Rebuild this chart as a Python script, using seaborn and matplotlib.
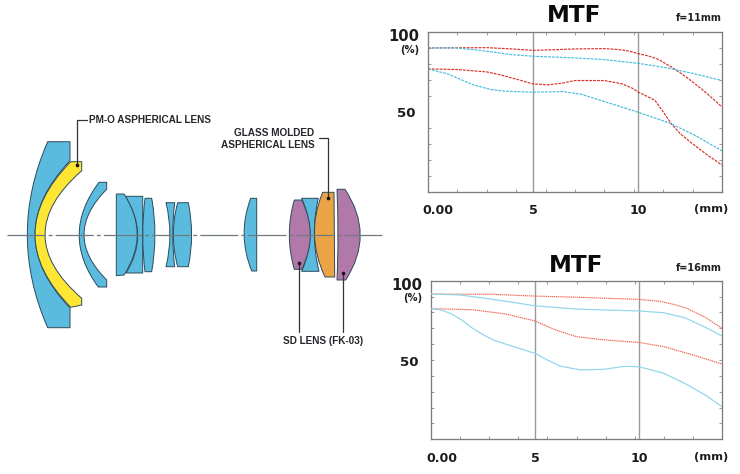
import matplotlib
matplotlib.use('Agg')
import matplotlib.pyplot as plt
from matplotlib.patches import PathPatch
from matplotlib.path import Path
import seaborn as sns

sns.set_style('white')
plt.rcParams['lines.scale_dashes'] = False

# MTF readings, top chart (f=11mm)
top_red1_x = [0, 1.4, 2.8, 4, 5, 6, 7, 8.4, 9.1, 9.6, 10, 10.5, 11, 11.6, 12, 12.4, 13, 13.5, 14]
top_red1_y = [90, 90.1, 90.2, 89.4, 88.5, 88.9, 89.4, 89.6, 89, 88, 86.5, 85, 82.7, 78, 74.5, 70.8, 64.6, 59, 53]
top_cyan1_x = [0, 1.4, 2.8, 4, 5, 7, 8.4, 10, 11.4, 12.5, 14]
top_cyan1_y = [90, 90, 88, 85.8, 84.8, 83.8, 82.7, 80.4, 77.5, 74.4, 69.6]
top_red2_x = [0, 1.4, 2.8, 3.5, 4.2, 5, 5.7, 6.4, 7, 8.4, 9.2, 9.7, 10, 10.8, 11.2, 11.6, 12, 12.5, 13.3, 14]
top_red2_y = [76.9, 76.5, 75, 73, 70.5, 67.5, 66.9, 68, 69.6, 69.6, 67.7, 65, 62.5, 57.3, 50, 42.3, 36.5, 31, 23, 16.7]
top_cyan2_x = [0, 1, 1.6, 2.2, 3, 3.6, 5, 6.4, 7.3, 8.5, 10, 11.5, 12.7, 14]
top_cyan2_y = [76.9, 73.5, 70, 66.7, 64, 63, 62.3, 62.7, 61, 56, 49.8, 43, 35.4, 25.6]

# MTF readings, bottom chart (f=16mm)
bot_red1_x = [0, 3, 5, 7.2, 10, 11, 11.7, 12.3, 13.2, 14]
bot_red1_y = [91.6, 91.4, 90.3, 89.5, 88.2, 87, 85, 82.6, 76.9, 70]
bot_cyan1_x = [0, 1.4, 3, 5, 7, 10, 11.2, 12.2, 13.2, 14]
bot_cyan1_y = [91.6, 91, 88.2, 84.2, 82.1, 80.9, 79.8, 76.7, 70.6, 65.1]
bot_red2_x = [0, 2, 3.6, 5, 6, 7, 8.4, 10, 11.2, 12.5, 14]
bot_red2_y = [82.4, 81.7, 79, 74.6, 68.9, 64.7, 62.6, 61.1, 58.4, 53.6, 47.5]
bot_cyan2_x = [0, 0.5, 1, 1.5, 2, 2.5, 3, 3.6, 5, 5.6, 6.2, 7.2, 8.3, 9.3, 10, 11.2, 12.2, 13.2, 14]
bot_cyan2_y = [82.4, 81.5, 79, 75, 70, 66, 62.6, 60, 54.2, 50, 46.2, 43.7, 44.1, 46, 45.8, 41.6, 35.3, 27.9, 20.6]

minor_x = [1.4, 2.8, 4.2, 5.6, 7.0, 8.4, 9.8, 11.2, 12.6]
minor_y = [10, 20, 30, 40, 50, 60, 70, 80, 90]
x_labels = ['0.00', '5', '10', '(mm)']
y_labels = ['100', '(%)', '50']

# lens outlines, one list per element: points, with 3-tuples being (ctrl_x, ctrl_y, 'q') before the end point
BLUE = '#5bbbdf'
YELLOW = '#ffe633'
ORANGE = '#eba445'
PURPLE = '#b179a9'

lens_front = [(47.7, 141.7), (70, 141.7), (70, 160.7), (0, 234.7, 'q'), (70, 308), (70, 327.7), (47.7, 327.7), (6.9, 234.7, 'q'), (47.7, 141.7)]
lens_pmo = [(70.7, 161.7), (81.7, 161.7), (81.7, 170.7), (8.3, 234.7, 'q'), (81.7, 298.3), (81.7, 305), (70.7, 307.3), (-0.7, 234.7, 'q'), (70.7, 161.7)]
lens_men2 = [(99, 182.3), (106.7, 182.3), (106.7, 189.3), (61.3, 234.7, 'q'), (106.7, 280), (106.7, 287), (98.3, 287), (59.7, 234.7, 'q'), (99, 182.3)]
lens_d1b = [(125, 196.3), (142.7, 196.3), (142.7, 273), (126, 273), (150, 234.7, 'q'), (125, 196.3)]
lens_d1a = [(116.3, 194), (124, 194), (150.6, 234.7, 'q'), (124, 275), (116.3, 275.7), (116.3, 194)]
lens_single = [(145, 198.3), (151.7, 198.3), (158.3, 234.7, 'q'), (151.7, 271.7), (145, 271.7), (140.4, 234.7, 'q'), (145, 198.3)]
lens_d2a = [(166, 202.7), (174.7, 202.7), (170.7, 234.7, 'q'), (174.7, 266.7), (166, 266.7), (174, 234.7, 'q'), (166, 202.7)]
lens_d2b = [(177.7, 202.7), (188.3, 202.7), (195, 234.7, 'q'), (188.3, 266.7), (177.7, 266.7), (169, 234.7, 'q'), (177.7, 202.7)]
lens_rear1 = [(250.7, 198.3), (256.7, 198.3), (256.7, 271), (251.7, 271), (237, 234.7, 'q'), (250.7, 198.3)]
lens_d3b = [(301.7, 198.3), (318.3, 198.3), (310, 234.7, 'q'), (319, 271.3), (301.7, 271.3), (318, 234.7, 'q'), (301.7, 198.3)]
lens_sd = [(294.3, 200), (301.7, 200), (319, 234.7, 'q'), (301.7, 269.3), (294.3, 269.3), (284.3, 234.7, 'q'), (294.3, 200)]
lens_asph = [(322.7, 192.3), (334, 192.3), (334.7, 277), (325, 277), (305, 234.7, 'q'), (322.7, 192.3)]
lens_fk = [(337, 189.3), (345, 189.3), (375.2, 234.7, 'q'), (345.7, 280), (337, 280), (339, 234.7, 'q'), (337, 189.3)]

lenses = [(lens_front, BLUE), (lens_pmo, YELLOW), (lens_men2, BLUE), (lens_d1b, BLUE), (lens_d1a, BLUE),
          (lens_single, BLUE), (lens_d2a, BLUE), (lens_d2b, BLUE), (lens_rear1, BLUE), (lens_d3b, BLUE),
          (lens_sd, PURPLE), (lens_asph, ORANGE), (lens_fk, PURPLE)]


def lens_patch(outline, color):
    verts = []
    codes = []
    for p in outline:
        if len(p) == 3:
            verts.append(p[:2])
            codes.append(Path.CURVE3)
        else:
            verts.append(p)
            # the end point of a curve takes CURVE3 too
            if codes and codes[-1] == Path.CURVE3 and len(verts) >= 2 and codes[-2:] != [Path.CURVE3, Path.CURVE3]:
                codes.append(Path.CURVE3)
            else:
                codes.append(Path.LINETO if codes else Path.MOVETO)
    return PathPatch(Path(verts, codes), facecolor=color, edgecolor='#2c4a5a', lw=0.7, joinstyle='round')


def draw_mtf(fig, box, series, title, title_xy, focal, y_pads, y_sizes, x_pos, y_pos):
    ax = fig.add_axes(box)
    ax.axvline(5, color='#9a9a9a', lw=1.0, zorder=1)
    ax.axvline(10, color='#9a9a9a', lw=1.0, zorder=1)
    for x, y, color, ls in series:
        sns.lineplot(x=x, y=y, ax=ax, color=color, lw=0.85, linestyle=ls, zorder=3, errorbar=None)
    ax.set_xlim(0, 14)
    ax.set_ylim(0, 100)
    ax.set_xlabel('')
    ax.set_ylabel('')
    for s in ax.spines.values():
        s.set_color('#7d7d7d')
        s.set_linewidth(0.95)
    ax.set_xticks(minor_x, minor=True)
    ax.set_yticks(minor_y, minor=True)
    ax.tick_params(which='minor', direction='in', length=2, width=0.6, color='#8a8a8a',
                   top=True, right=True, bottom=True, left=True)
    ax.set_xticks(x_pos, x_labels, fontweight='bold', family='DejaVu Sans')
    ax.set_yticks(y_pos, y_labels, fontweight='bold', family='DejaVu Sans')
    ax.tick_params(which='major', length=0, colors='#1c1c1c')
    for lab, s in zip(ax.get_xticklabels(), [9.1, 9.1, 9.1, 8.2]):
        lab.set_fontsize(s)
    ax.tick_params(axis='x', which='major', pad=9)
    for t, lab, s, p in zip(ax.yaxis.get_major_ticks(), ax.get_yticklabels(), y_sizes, y_pads):
        lab.set_fontsize(s)
        t.set_pad(p)
    fig.text(title_xy[0] / 740, 1 - title_xy[1] / 474, title, fontsize=16.6, fontweight='bold',
             ha='center', va='center', color='#0a0a0a', family='DejaVu Sans')
    fig.text(721.7 / 740, 1 - (title_xy[1] + 2) / 474, focal, fontsize=7, fontweight='bold',
             ha='right', va='center', color='#222222', family='DejaVu Sans')
    return ax


fig = plt.figure(figsize=(7.4, 4.74), dpi=100, facecolor='white')

# lens diagram drawn in picture pixels
dia = fig.add_axes([0, 0, 1, 1])
dia.set_xlim(0, 740)
dia.set_ylim(474, 0)
dia.axis('off')
for outline, color in lenses:
    dia.add_patch(lens_patch(outline, color))
dia.plot([7, 382], [234.7, 234.7], color='#6f7a7d', lw=0.9, linestyle=(0, (27.4, 2.2, 2.9, 2.2)), zorder=5)

leaders = [([76.7, 76.7, 86.7], [165, 120, 120]),
           ([319.3, 327.7, 327.7], [138.3, 138.3, 198.3]),
           ([298.7, 298.7], [263.3, 331.7]),
           ([343.3, 343.3], [273.3, 331.7])]
for lx, ly in leaders:
    dia.plot(lx, ly, color='#33343a', lw=0.9, zorder=6)
dots_x = [76.7, 327.7, 298.7, 343.3]
dots_y = [165, 198.3, 263.3, 273.3]
dia.scatter(dots_x, dots_y, s=7, color='#15151a', zorder=7, linewidths=0)

label_font = dict(fontsize=7.2, fontweight='bold', family='Liberation Sans', color='#26262c', va='center')
dia.text(89, 120, 'PM-O ASPHERICAL LENS', ha='left', **label_font)
dia.text(314.3, 133.3, 'GLASS MOLDED', ha='right', **label_font)
dia.text(314.3, 144.7, 'ASPHERICAL LENS', ha='right', **label_font)
dia.text(323.3, 340.7, 'SD LENS (FK-03)', ha='center', **label_font)

TOP_RED = '#d8322a'
TOP_CYAN = '#45bce0'
BOT_RED = '#f0695a'
BOT_CYAN = '#8ed6ea'
dash = (0, (2.0, 0.8))
dot = (0, (1.0, 0.5))

top_series = [(top_red1_x, top_red1_y, TOP_RED, dash), (top_cyan1_x, top_cyan1_y, TOP_CYAN, dash),
              (top_red2_x, top_red2_y, TOP_RED, dash), (top_cyan2_x, top_cyan2_y, TOP_CYAN, dash)]
bot_series = [(bot_red1_x, bot_red1_y, BOT_RED, dot), (bot_cyan1_x, bot_cyan1_y, BOT_CYAN, '-'),
              (bot_red2_x, bot_red2_y, BOT_RED, dot), (bot_cyan2_x, bot_cyan2_y, BOT_CYAN, '-')]

draw_mtf(fig, [428 / 740, 1 - 191.7 / 474, 294 / 740, 159.7 / 474], top_series, 'MTF', (574, 16), 'f=11mm',
         [6, 6, 9], [10.6, 7.2, 9.6], [0.48, 5, 10, 13.5], [98, 89.5, 50])
draw_mtf(fig, [431 / 740, 1 - 439.3 / 474, 291 / 740, 158.6 / 474], bot_series, 'MTF', (575.7, 266), 'f=16mm',
         [6, 6, 9], [10.6, 7.2, 9.6], [0.5, 5, 10, 13.5], [98, 89.5, 49.5])

fig.savefig('out.png', dpi=100)
